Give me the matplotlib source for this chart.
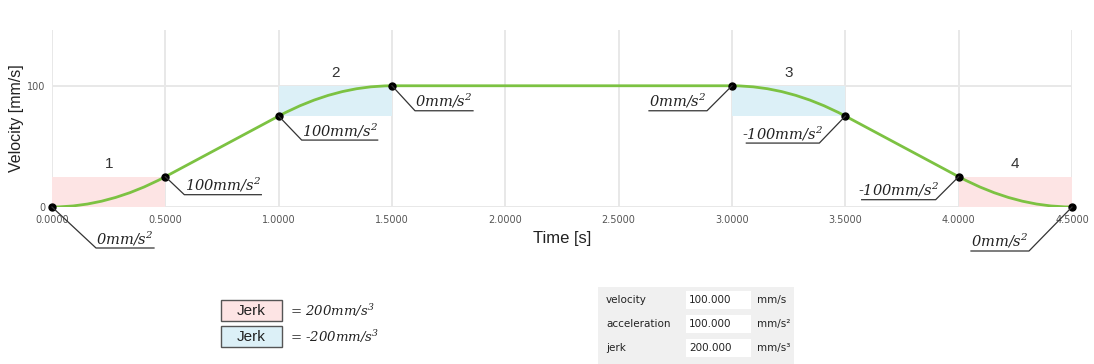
import numpy as np
import matplotlib
matplotlib.use("Agg")
import matplotlib.pyplot as plt
from matplotlib.path import Path
from matplotlib.patches import PathPatch, Rectangle
from matplotlib.lines import Line2D

# Knoten der Geschwindigkeitskurve
knot_t = [0.0, 0.5, 1.0, 1.5, 3.0, 3.5, 4.0, 4.5]
knot_v = [0, 25, 75, 100, 100, 75, 25, 0]
knot_acc = [0, 100, 100, 0, 0, -100, -100, 0]

# Jerk-Bereiche
jerk_id = ["1", "2", "3", "4"]
jerk_t0 = [0.0, 1.0, 3.0, 4.0]
jerk_t1 = [0.5, 1.5, 3.5, 4.5]
jerk_vlo = [0, 75, 75, 0]
jerk_vhi = [25, 100, 100, 25]
jerk_sign = [1, -1, -1, 1]
jerk_value = 200

# Tabelle unten rechts
param_names = ["velocity", "acceleration", "jerk"]
param_values = ["100.000", "100.000", "200.000"]
param_units = ["mm/s", "mm/s²", "mm/s³"]

x_ticks = [0.0, 0.5, 1.0, 1.5, 2.0, 2.5, 3.0, 3.5, 4.0, 4.5]
y_ticks = [0, 100]

W, H = 1094, 364
pink = "#fde4e4"
blue = "#dcf0f7"
green = "#7cc242"

plt.rcParams["mathtext.fontset"] = "custom"
plt.rcParams["mathtext.rm"] = "DejaVu Serif:italic"
plt.rcParams["mathtext.it"] = "DejaVu Serif:italic"


def fpos(x, y):
    # Pixel (von oben) -> Figure-Koordinaten
    return x / W, 1 - y / H


fig = plt.figure(figsize=(W / 100, H / 100), dpi=100)
ax = fig.add_axes([52 / W, (H - 207) / H, 1020 / W, 177 / H])
ax.set_xlim(0, 4.5)
ax.set_ylim(0, 146)
for s in ax.spines.values():
    s.set_visible(False)
ax.set_xticks(x_ticks)
ax.set_xticklabels([f"{t:.4f}" for t in x_ticks])
ax.set_yticks(y_ticks)
ax.tick_params(length=0, labelsize=7, colors="#555555", pad=6)
ax.tick_params(axis="y", pad=5)
ax.grid(True, color="#e8e8e8", lw=1.4)
ax.set_axisbelow(True)
ax.set_xlabel("Time [s]", fontsize=12, family="Liberation Sans", color="#222222", labelpad=4)
ax.set_ylabel("Velocity [mm/s]", fontsize=11.5, family="Liberation Sans", color="#222222", labelpad=2)

# Jerk-Rechtecke
for i in range(len(jerk_id)):
    c = pink if jerk_sign[i] > 0 else blue
    ax.fill_between([jerk_t0[i], jerk_t1[i]], jerk_vlo[i], jerk_vhi[i], color=c, lw=0, zorder=1)
    ax.annotate(jerk_id[i], xy=((jerk_t0[i] + jerk_t1[i]) / 2, jerk_vhi[i]), xytext=(0, 6),
                textcoords="offset pixels", ha="center", va="bottom", fontsize=11,
                family="Liberation Sans", color="#333333")

# Kurve als quadratische Bezier-Segmente
verts = [(knot_t[0], knot_v[0])]
codes = [Path.MOVETO]
for i in range(len(knot_t) - 1):
    dt = knot_t[i + 1] - knot_t[i]
    verts.append((knot_t[i] + dt / 2, knot_v[i] + knot_acc[i] * dt / 2))
    verts.append((knot_t[i + 1], knot_v[i + 1]))
    codes += [Path.CURVE3, Path.CURVE3]
ax.add_patch(PathPatch(Path(verts, codes), fill=False, edgecolor=green, lw=2.0, zorder=3))
ax.plot(knot_t, knot_v, "o", color="black", ms=5, zorder=4, clip_on=False)

# Beschriftungen mit Fuehrungslinien (Pixel-Offsets)
lead_dx = [44, 19, 23, 23, -25, -26, -23, -43]
lead_dy = [41, 18, 24, 25, 25, 27, 23, 44]
under_w = [58, 77, 76, 58, 58, 73, 74, 58]
inv = fig.transFigure.inverted()
for i in range(len(knot_t)):
    kx, ky = ax.transData.transform((knot_t[i], knot_v[i]))
    cx, cy = kx + lead_dx[i], ky - lead_dy[i]
    ex = cx + under_w[i] if lead_dx[i] > 0 else cx - under_w[i]
    pts = inv.transform([(kx, ky), (cx, cy), (ex, cy)])
    fig.add_artist(Line2D(pts[:, 0], pts[:, 1], color="#333333", lw=0.9, zorder=2))
    tx, ty = inv.transform(((cx + ex) / 2, cy + 4))
    fig.text(tx, ty, f"{knot_acc[i]}mm/s$^{{2}}$", ha="center", va="baseline",
             fontsize=10.5, family="DejaVu Serif", style="italic", color="#222222")

# Jerk-Legende
for i, (c, y0) in enumerate([(pink, 300), (blue, 326)]):
    x, y = fpos(221, y0 + 21)
    fig.add_artist(Rectangle((x, y), 61 / W, 21 / H, facecolor=c, edgecolor="#555555",
                             lw=1.0, transform=fig.transFigure))
    fig.text(*fpos(251, y0 + 11), "Jerk", ha="center", va="center", fontsize=11,
             family="Liberation Sans", color="#222222")
    val = jerk_value if i == 0 else -jerk_value
    fig.text(*fpos(290, y0 + 16), f"= {val}mm/s$^{{3}}$", ha="left", va="baseline",
             fontsize=9.5, family="DejaVu Serif", style="italic", color="#222222")

# Parameter-Tabelle
x, y = fpos(598, 364)
fig.add_artist(Rectangle((x, y), 196 / W, 77 / H, facecolor="#f0f0f0", edgecolor="none",
                         transform=fig.transFigure))
for i in range(len(param_names)):
    yc = 300 + 24 * i
    x, y = fpos(686, yc + 9)
    fig.add_artist(Rectangle((x, y), 65 / W, 18 / H, facecolor="white", edgecolor="none",
                             transform=fig.transFigure))
    fig.text(*fpos(606, yc), param_names[i], ha="left", va="center", fontsize=7.5, color="#222222")
    fig.text(*fpos(689, yc), param_values[i], ha="left", va="center", fontsize=7.5, color="#222222")
    fig.text(*fpos(757, yc), param_units[i], ha="left", va="center", fontsize=7.5, color="#222222")

fig.savefig("out.png", dpi=100)
